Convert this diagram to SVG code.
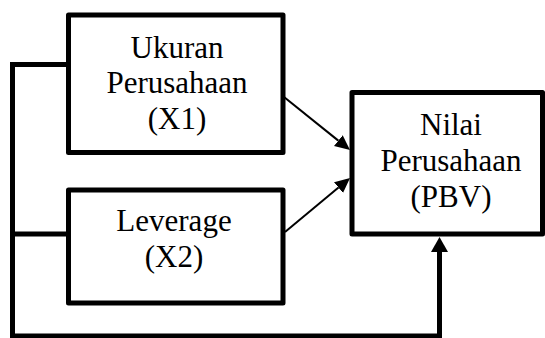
<svg xmlns="http://www.w3.org/2000/svg" width="545" height="338" viewBox="0 0 545 338">
  <style>
    .box { fill: #ffffff; stroke: #000000; stroke-width: 5; stroke-linejoin: round; }
    .thick { fill: none; stroke: #000000; stroke-width: 5; stroke-linejoin: miter; }
    .thin { fill: none; stroke: #000000; stroke-width: 2; }
    .lbl { font-family: "Liberation Serif", "Times New Roman", serif; font-size: 31px; fill: #000000; text-anchor: middle; }
  </style>
  <defs>
    <marker id="head" viewBox="0 0 15 14" refX="0" refY="7" markerWidth="15" markerHeight="14" markerUnits="userSpaceOnUse" orient="auto">
      <path d="M0,0 L15,7 L0,14 z" fill="#000000"/>
    </marker>
    <marker id="headBig" viewBox="0 0 15 17" refX="0" refY="8.5" markerWidth="15" markerHeight="17" markerUnits="userSpaceOnUse" orient="auto">
      <path d="M0,0 L15,8.5 L0,17 z" fill="#000000"/>
    </marker>
  </defs>
  <rect width="545" height="338" fill="#ffffff"/>
  <g id="connectors">
    <path class="thick" d="M68.5,64.5 H12.5 V336 H439.5 V252" marker-end="url(#headBig)"/>
    <path class="thick" d="M12.5,234 H68.5"/>
    <path class="thin" d="M284,97 L338.3,140.6" marker-end="url(#head)"/>
    <path class="thin" d="M285,232 L338.5,187.6" marker-end="url(#head)"/>
  </g>
  <g id="ukuran-perusahaan">
    <rect class="box" x="68.5" y="15" width="214.5" height="137.5"/>
    <text class="lbl" x="177" y="58">Ukuran</text>
    <text class="lbl" x="177" y="93">Perusahaan</text>
    <text class="lbl" x="177" y="129">(X1)</text>
  </g>
  <g id="leverage">
    <rect class="box" x="68.5" y="190" width="214.5" height="113"/>
    <text class="lbl" x="174" y="231">Leverage</text>
    <text class="lbl" x="174" y="267">(X2)</text>
  </g>
  <g id="nilai-perusahaan">
    <rect class="box" x="352" y="92.5" width="190.5" height="141.5"/>
    <text class="lbl" x="451" y="135">Nilai</text>
    <text class="lbl" x="451" y="171">Perusahaan</text>
    <text class="lbl" x="451" y="207">(PBV)</text>
  </g>
</svg>
